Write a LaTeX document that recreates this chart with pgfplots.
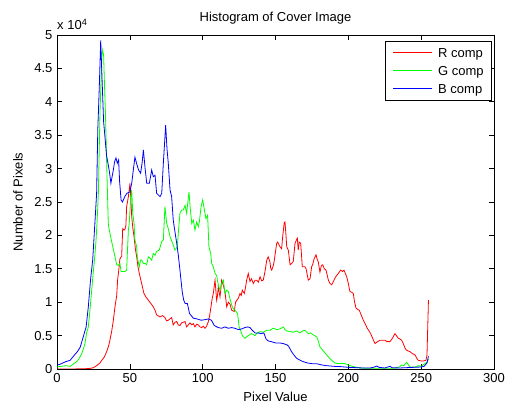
\documentclass[border=0pt]{standalone}
\usepackage{fontspec}
\setmainfont{Liberation Sans}
\usepackage{pgfplots}
\pgfplotsset{compat=1.18}
\begin{document}
\fontsize{13}{15}\selectfont
\begin{tikzpicture}
\useasboundingbox (-57pt,-34pt) rectangle (454pt,369pt);
\begin{axis}[
 at={(0,0)}, anchor=south west,
 scale only axis, width=437pt, height=334pt,
 xmin=0, xmax=300, ymin=0, ymax=50000,
 xtick={0,50,...,300}, ytick={0,5000,...,50000},
 yticklabels={0,0.5,1,1.5,2,2.5,3,3.5,4,4.5,5},
 scaled y ticks=false,
 tick align=inside, major tick length=5pt,
 axis line style={line width=0.8pt},
 every tick/.style={black, line width=0.6pt},
 /pgf/number format/assume math mode=true,
 tick label style={font=\fontsize{13}{15}\selectfont},
 xlabel={Pixel Value}, ylabel={Number of Pixels},
 title={Histogram of Cover Image},
 every axis x label/.style={at={(rel axis cs:0.5,0)}, yshift=-28pt, anchor=center},
 every axis y label/.style={at={(rel axis cs:0,0.5)}, xshift=-39pt, rotate=90, anchor=center},
 every axis title/.style={at={(rel axis cs:0.5,1)}, yshift=17pt, anchor=center},
]
\addplot[draw=red, line width=0.8pt] coordinates {
(0,0) (10,0) (20,50) (23,100) (25,200) (27.2,500) (29.5,900) (30.7,1300) (32.5,1800) (34.1,2600)
(35.5,3500) (36.5,4500) (37.5,5600) (38.5,7000) (39.8,9300) (41,11000) (41.6,13300) (42.5,15000)
(43.2,16500) (44.4,16900) (45.1,21000) (46,20800) (46.5,20800) (47.3,21500) (47.8,24300) (49,25800)
(50.1,27800) (50.6,25800) (51.3,22800) (52.1,21000) (52.9,19800) (53.8,18000) (54.7,16800) (55.6,15300)
(56.5,14300) (58.1,12800) (59.7,11300) (61,10800) (62.7,10300) (64.5,9800) (66.1,9300) (67.3,8800)
(68.4,8100) (70.7,7800) (72.5,8000) (74.1,7700) (75.2,7200) (76.4,7300) (77.5,7500) (78.7,7700)
(79.8,6600) (81,7000) (82.2,7100) (83.3,6600) (84.4,6500) (85.5,6900) (86.7,7000) (87.9,7100)
(89,6300) (90.1,6600) (91.3,6900) (92.5,6600) (93.6,6800) (94.7,6300) (95.9,6700) (97,6600)
(98.2,6300) (99.3,6200) (100.4,6400) (101.6,6100) (102.7,6400) (103.9,7100) (104.8,8000) (105.7,9300)
(106.5,10500) (107.3,11300) (108,12500) (108.5,13300) (109.6,10300) (110.2,11000) (110.7,12300)
(111.9,10800) (112.5,12000) (113,13300) (114.2,12500) (115.3,11600) (116.5,9300) (117.6,10000)
(118.8,9700) (119.9,8800) (121.7,8600) (122.6,10000) (123.5,10300) (124.5,10600) (125.6,11300)
(126.5,11000) (127.2,11800) (128.6,11300) (129.5,12300) (130.2,13300) (131.3,14300) (132.5,13100)
(133.5,13500) (134.8,12800) (136,13300) (137.1,13300) (138.2,13000) (139.4,13800) (140.5,13200)
(141.6,13300) (142.8,14600) (144,16300) (145,16800) (146.2,16000) (146.7,15100) (147.4,14800)
(148.5,15500) (149,16000) (150.8,18800) (151.5,19000) (153.1,18300) (154.2,18000) (155,20000)
(156,21900) (156.5,22000) (157.2,20000) (157.7,18300) (158.8,17800) (160,15600) (161.1,15800)
(162.2,16100) (163.4,18800) (164.5,19400) (165,19600) (165.6,17800) (166.3,19000) (167.3,18800)
(168.4,15300) (170.2,15300) (171,15000) (172.5,13300) (173.7,13500) (174.8,15300) (175.5,15600)
(176.5,16500) (177.8,17100) (178.5,16500) (179.4,16000) (180.5,14500) (181.5,15500) (182.4,15600)
(183.5,15000) (184.7,14800) (186.3,13300) (187.4,12800) (188.6,12600) (189.5,13000) (190.8,13600)
(192,14000) (193.1,14300) (194.7,14800) (196,14600) (197,14800) (198.9,13800) (200,12800)
(201.1,11600) (202.2,11500) (203.4,11300) (204.3,10000) (205.3,9100) (206.5,8900) (207.5,8800)
(209,8000) (210.3,7300) (211.5,6800) (213,6100) (214.2,5700) (215.3,5300) (216.5,4700) (218.3,3800)
(219.5,4000) (221.7,4300) (223.5,4300) (225.2,4300) (226.5,4100) (228.6,4100) (230,4500) (232,5300)
(233,5000) (234.3,4600) (235.4,4500) (236.6,4300) (237.7,3800) (239,3100) (240,2800) (242.3,2600)
(244,2300) (245.8,2100) (247,1600) (248,1300) (250.3,1200) (251.5,1200) (253.3,1300) (254,2100)
(255,10300)
};
\addplot[draw=green, line width=0.8pt] coordinates {
(0,300) (3,400) (6,500) (9,400) (11,700) (13.5,1100) (15,1500) (17,2300) (18.1,3000) (19.2,3800)
(20.4,5500) (21.5,6300) (22.7,9000) (23.5,11000) (24.9,14500) (26,17000) (26.8,19300) (27.5,22000)
(28.4,26300) (29.5,38300) (30.5,45000) (31.1,47800) (32,47000) (32.5,43300) (33.3,38000) (34.1,30800)
(35.2,21800) (35.7,21000) (37.5,19100) (39.8,16800) (41,15600) (42,15500) (43.2,15800) (44,14600)
(45.5,14600) (46.7,14600) (47.8,14800) (49,20800) (49.6,21800) (50.6,25600) (51.3,26800) (52,23300)
(52.9,21800) (53.5,19300) (54.7,18300) (55.1,16800) (56.5,15300) (57.4,16300) (58.1,16300)
(59.3,15800) (60.5,15800) (61.6,15600) (62.7,16800) (63.8,16600) (65,16300) (66.1,17300) (67.3,17000)
(68.4,17600) (70.2,17800) (71.9,19100) (73,19300) (74.1,24300) (75.3,21800) (76.4,21000) (77.6,19800)
(79.4,18800) (81,17800) (82.6,18300) (83.5,21000) (84.4,23300) (85.6,23800) (86.7,23800) (87.9,24500)
(89,23300) (90.1,25500) (90.6,26500) (91.5,24000) (92.5,21800) (93.6,22300) (94.7,20800) (95.9,22000)
(97,21300) (97.7,22000) (98.9,24300) (100,25300) (100.9,24200) (101.6,23300) (102.3,22500)
(103.4,23000) (104.3,18300) (105.5,17300) (106.2,15800) (107.3,15300) (108.5,14300) (109.6,14000)
(110.7,12600) (111.9,11800) (113,12800) (114.2,13300) (115.3,11300) (116.5,11800) (117.6,11600)
(119,10300) (119.9,9600) (121,9000) (122.2,8800) (124,8300) (125,6300) (126,5800) (127.2,5000)
(129,4600) (131.3,5000) (133.6,5300) (135.9,5000) (137,5300) (139.4,5600) (141.6,5500) (144,5800)
(146.2,5800) (148.5,6100) (150.8,5900) (153,6000) (155.4,6300) (156.5,5900) (157.7,5700) (160,5600)
(162.2,5500) (164.5,5700) (166.8,5400) (168.5,5700) (170.2,5800) (172.5,5300) (174,5400) (176,5100)
(178.3,4800) (179.5,4100) (180.5,3300) (182.5,2800) (184,2400) (186.3,1800) (188,1400) (190.8,900)
(193,800) (195,850) (197.7,800) (199,700) (201,500) (204.5,300) (208,150) (215,100) (225,100)
(232,100) (235,300) (236.6,600) (238,500) (240,1000) (241,700) (242.3,300) (245.8,300) (248,500)
(250,400) (252.6,800) (254,1000) (255,1500)
};
\addplot[draw=blue, line width=0.8pt] coordinates {
(0,600) (2,700) (4,900) (6,1100) (9,1300) (12,2100) (14,2600) (16,3300) (18,4800) (20,6300)
(21.5,9300) (23,13300) (24.5,16300) (26,21800) (27.2,26300) (28,35800) (29,42000) (30,49200)
(31,43000) (32,37000) (32.5,35800) (34,32000) (35,30800) (36,29500) (37,27800) (38,29000)
(38.7,29800) (39.5,31000) (40.5,31600) (41.4,30800) (42.3,31300) (43,28000) (44,25300) (45,25000)
(46.5,25800) (48,26300) (50,26500) (51.3,27800) (52.5,30000) (53.5,31700) (55,30500) (56,29800)
(57.4,29300) (58.5,31000) (59.3,32800) (60.5,30000) (61.6,27800) (63.4,27800) (65,29800) (66.1,28800)
(67.3,29000) (68.4,26300) (70.7,25800) (71.9,26300) (73,30800) (74.6,36500) (75.5,33000) (76.4,30800)
(77.6,26800) (78.7,25800) (79.8,22300) (81,20500) (82.2,18800) (83.3,17000) (84.4,14800) (86,11500)
(87,10300) (88,9800) (89.5,9800) (91,8300) (93.6,7600) (96,7500) (99,7300) (102,7400) (104,7500)
(106,7300) (108,6500) (110.7,6200) (113,6100) (115.3,6300) (117.6,6100) (120,6200) (122,6100)
(124.5,5900) (126.8,6000) (129,6200) (131,6300) (132.5,6200) (134,5800) (136,5400) (138,5400)
(140,5300) (142,5400) (143.5,4500) (145,4200) (147,4100) (150,3900) (153,3900) (155.4,3800)
(158,3600) (159,3400) (161,2600) (163,2000) (164.5,1600) (167,1300) (169,1100) (172,900) (175,800)
(178,800) (182,600) (185,500) (190,400) (195,350) (200,250) (205,200) (210,150) (215,150) (218,300)
(219.5,450) (221,250) (225,150) (228.6,400) (230,200) (235,150) (240,200) (245,250) (250,300)
(252,400) (254,900) (255,1900)
};
\end{axis}
\node[anchor=south west, inner sep=0pt] at (0pt,339pt) {x 10\textsuperscript{4}};
% legend
\filldraw[fill=white, draw=black, line width=0.8pt] (328pt,269pt) rectangle (434pt,328pt);
\draw[red, line width=1pt] (336pt,316pt) -- (375pt,316pt);
\draw[green, line width=1pt] (336pt,298pt) -- (375pt,298pt);
\draw[blue, line width=1pt] (336pt,280pt) -- (375pt,280pt);
\node[anchor=base west, inner sep=0pt] at (381pt,311.4pt) {R comp};
\node[anchor=base west, inner sep=0pt] at (381pt,293.4pt) {G comp};
\node[anchor=base west, inner sep=0pt] at (381pt,275.4pt) {B comp};
\end{tikzpicture}
\end{document}
